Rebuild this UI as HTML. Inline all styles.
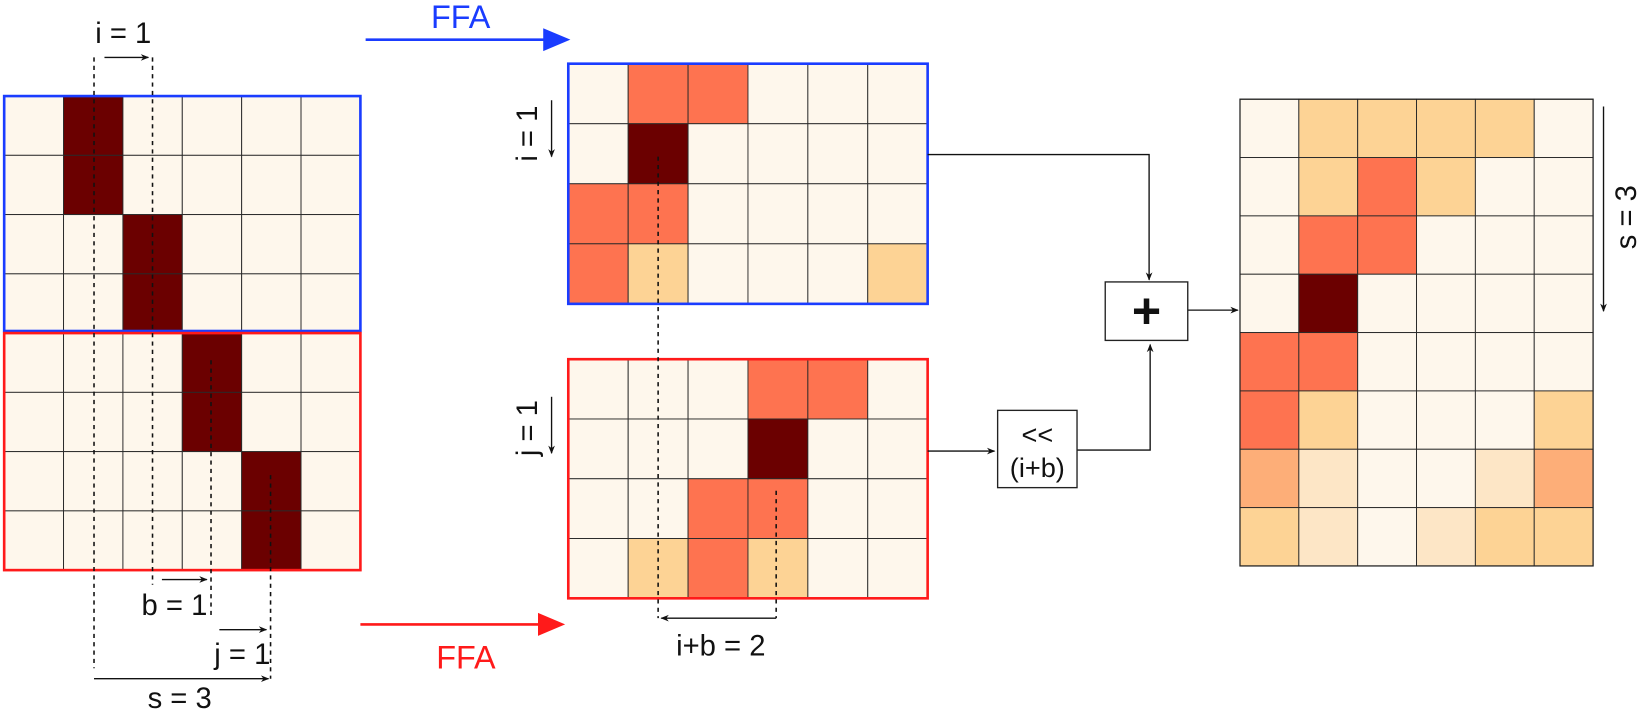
<!DOCTYPE html>
<html><head><meta charset="utf-8"><style>
html,body{margin:0;padding:0;background:#fff;}
svg{display:block;}
text{font-family:"Liberation Sans",sans-serif;}
</style></head><body>
<svg id="fig" width="1638" height="709" viewBox="0 0 1568 679" preserveAspectRatio="none" xmlns="http://www.w3.org/2000/svg">
<defs>
<marker id="ah" viewBox="0 0 10 10" refX="9" refY="5" markerWidth="10" markerHeight="8" markerUnits="userSpaceOnUse" orient="auto"><path d="M0,1 L10,5 L0,9 L3,5 Z" fill="#111"/></marker>
</defs>
<g id="cells"></g>
<rect x="4" y="92" width="341" height="225" fill="none" stroke="#1a3cff" stroke-width="2.5"/>
<rect x="4" y="319" width="341" height="227" fill="none" stroke="#ff1a1a" stroke-width="2.5"/>
<rect x="544" y="61" width="344" height="230" fill="none" stroke="#1a3cff" stroke-width="2.5"/>
<rect x="544" y="344" width="344" height="229" fill="none" stroke="#ff1a1a" stroke-width="2.5"/>
<rect x="1187" y="95" width="338" height="447" fill="none" stroke="#222" stroke-width="1.2"/>

<g stroke="#111" stroke-width="1.5" stroke-dasharray="4,4" fill="none">
<line x1="90" y1="55" x2="90" y2="640"/>
<line x1="146" y1="55" x2="146" y2="560"/>
<line x1="202" y1="345" x2="202" y2="592"/>
<line x1="259" y1="455" x2="259" y2="650"/>
<line x1="630" y1="150" x2="630" y2="592"/>
<line x1="743" y1="470" x2="743" y2="592"/>
</g>
<g stroke="#111" stroke-width="1.3" fill="none" marker-end="url(#ah)">
<line x1="100" y1="55" x2="142" y2="55"/>
<line x1="155" y1="555" x2="198" y2="555"/>
<line x1="210" y1="603" x2="255" y2="603"/>
<line x1="90" y1="650" x2="257" y2="650"/>
<line x1="743" y1="592" x2="633" y2="592"/>
<line x1="528" y1="96" x2="528" y2="150"/>
<line x1="528" y1="380" x2="528" y2="434"/>
<line x1="1535" y1="102" x2="1535" y2="298"/>
<polyline points="888,148 1100,148 1100,268"/>
<line x1="1137" y1="297" x2="1185" y2="297"/>
<line x1="888" y1="432" x2="952" y2="432"/>
<polyline points="1031,431 1101,431 1101,330"/>
</g>
<text x="118" y="41" font-size="28" text-anchor="middle" fill="#111">i = 1</text>
<text x="167" y="589" font-size="28" text-anchor="middle" fill="#111">b = 1</text>
<text x="232" y="636" font-size="28" text-anchor="middle" fill="#111">j = 1</text>
<text x="172" y="678" font-size="28" text-anchor="middle" fill="#111">s = 3</text>
<text x="690" y="628" font-size="28" text-anchor="middle" fill="#111">i+b = 2</text>
<text transform="translate(514,128) rotate(-90)" font-size="28" text-anchor="middle" fill="#111">i = 1</text>
<text transform="translate(514,410) rotate(-90)" font-size="28" text-anchor="middle" fill="#111">j = 1</text>
<text transform="translate(1566,208) rotate(-90)" font-size="28" text-anchor="middle" fill="#111">s = 3</text>

<line x1="350" y1="38" x2="522" y2="38" stroke="#1a3cff" stroke-width="2.5"/>
<polygon points="520,27 546,38 520,49" fill="#1a3cff"/>
<text x="441" y="27" font-size="31" text-anchor="middle" fill="#1a3cff">FFA</text>
<line x1="345" y1="598" x2="517" y2="598" stroke="#ff1a1a" stroke-width="2.5"/>
<polygon points="515,587 541,598 515,609" fill="#ff1a1a"/>
<text x="446" y="640" font-size="31" text-anchor="middle" fill="#ff1a1a">FFA</text>

<rect x="1058" y="270" width="79" height="56" fill="#fff" stroke="#222" stroke-width="1.3"/>
<text x="1097.5" y="314" font-size="48" font-weight="bold" text-anchor="middle" fill="#111">+</text>
<rect x="955" y="393" width="76" height="74" fill="#fff" stroke="#222" stroke-width="1.3"/>
<text x="993" y="425" font-size="26" text-anchor="middle" fill="#111">&lt;&lt;</text>
<text x="993" y="457" font-size="26" text-anchor="middle" fill="#111">(i+b)</text>
</svg>
<script>
// color levels: 0 light, 1 pale, 2 peach, 3 salmon, 4 orange, 5 dark
const palette = ["#fef7ec","#fde6c6","#fdd395","#fdae78","#fe7350","#6b0000"];
const leftMatrix = [
 [0,5,0,0,0,0],[0,5,0,0,0,0],[0,0,5,0,0,0],[0,0,5,0,0,0],
 [0,0,0,5,0,0],[0,0,0,5,0,0],[0,0,0,0,5,0],[0,0,0,0,5,0]];
const midTopMatrix = [
 [0,4,4,0,0,0],[0,5,0,0,0,0],[4,4,0,0,0,0],[4,2,0,0,0,2]];
const midBottomMatrix = [
 [0,0,0,4,4,0],[0,0,0,5,0,0],[0,0,4,4,0,0],[0,2,4,2,0,0]];
const rightMatrix = [
 [0,2,2,2,2,0],[0,2,4,2,0,0],[0,4,4,0,0,0],[0,5,0,0,0,0],
 [4,4,0,0,0,0],[4,2,0,0,0,2],[3,1,0,0,1,3],[2,1,0,1,2,2]];
const g = document.getElementById('cells');
const NS = "http://www.w3.org/2000/svg";
function drawMatrix(m, x0, x1, y0, y1, name){
  const rows = m.length, cols = m[0].length;
  const cw = (x1-x0)/cols, rh = (y1-y0)/rows;
  for(let r=0;r<rows;r++){
    for(let c=0;c<cols;c++){
      const rect = document.createElementNS(NS,'rect');
      rect.setAttribute('x', x0+c*cw);
      rect.setAttribute('y', y0+r*rh);
      rect.setAttribute('width', cw);
      rect.setAttribute('height', rh);
      rect.setAttribute('fill', palette[m[r][c]]);
      rect.setAttribute('stroke', '#2a2a2a');
      rect.setAttribute('stroke-width', '0.9');
      
      
      g.appendChild(rect);
    }
  }
}
drawMatrix(leftMatrix, 4, 345, 92, 546, 'left-matrix');
drawMatrix(midTopMatrix, 544, 888, 61, 291, 'mid-top-matrix');
drawMatrix(midBottomMatrix, 544, 888, 344, 573, 'mid-bottom-matrix');
drawMatrix(rightMatrix, 1187, 1525, 95, 542, 'right-matrix');
</script>
</body></html>
